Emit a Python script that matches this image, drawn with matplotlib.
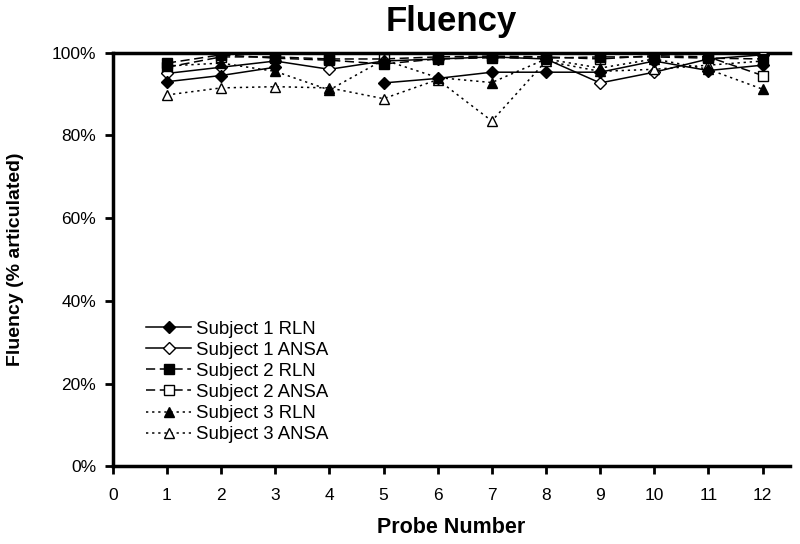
import numpy as np
import matplotlib
matplotlib.use("Agg")
import matplotlib.pyplot as plt
from matplotlib.ticker import PercentFormatter

plt.rcParams['font.family'] = ['Liberation Sans', 'DejaVu Sans']

probes = np.arange(1, 13)

# fluency values (% articulated) per probe
s1_rln = [93.0, 94.5, 96.5, np.nan, 92.7, 93.8, 95.3, 95.3, 95.3, 98.0, 95.7, 97.0]
s1_ansa = [95.0, 96.5, 98.0, 96.0, 98.0, 98.5, 99.0, 98.5, 92.7, 95.3, 98.5, 99.5]
s2_rln = [97.5, 99.5, 98.7, 98.2, 97.3, 98.5, 98.8, 98.7, 99.0, 99.0, 98.7, 98.5]
s2_ansa = [96.5, 99.0, 99.0, 98.5, 98.5, 99.0, 99.2, 99.0, 98.5, 99.3, 99.0, 94.5]
s3_rln = [96.8, 97.5, 95.5, 91.0, 98.3, 94.0, 92.8, 98.5, 96.3, 98.5, 96.0, 91.2]
s3_ansa = [89.8, 91.5, 91.8, 91.5, 88.9, 93.5, 83.5, 98.0, 95.5, 96.0, 97.0, 98.0]

# label, values, linestyle, marker, face colour, z-order
series = [
    ('Subject 1 RLN', s1_rln, '-', 'D', 'black', 4),
    ('Subject 1 ANSA', s1_ansa, '-', 'D', 'white', 3),
    ('Subject 2 RLN', s2_rln, (0, (6, 3)), 's', 'black', 5),
    ('Subject 2 ANSA', s2_ansa, (0, (6, 3)), 's', 'white', 2),
    ('Subject 3 RLN', s3_rln, (0, (1.5, 2.5)), '^', 'black', 6),
    ('Subject 3 ANSA', s3_ansa, (0, (1.5, 2.5)), '^', 'white', 3),
]

fig = plt.figure(figsize=(8, 5.44), dpi=100)
ax = fig.add_axes([0.141, 0.143, 0.846, 0.760])

for label, vals, ls, mk, fc, z in series:
    ax.plot(probes, vals, color='black', linestyle=ls, linewidth=1.1,
            marker=mk, markersize=7 if mk != 'D' else 6,
            markerfacecolor=fc, markeredgecolor='black', markeredgewidth=1.0,
            label=label, zorder=z)

ax.set_xlim(0, 12.5)
ax.set_ylim(0, 100)
ax.set_xticks(np.arange(0, 13))
ax.set_yticks(np.arange(0, 101, 20))
ax.yaxis.set_major_formatter(PercentFormatter(decimals=0))
ax.tick_params(labelsize=12.5, width=2, length=6, direction='out')
ax.tick_params(axis='x', pad=10)
ax.tick_params(axis='y', pad=6)

for side in ['left', 'bottom', 'top']:
    ax.spines[side].set_linewidth(2.5)
ax.spines['right'].set_visible(False)

ax.set_title('Fluency', fontsize=25, fontweight='bold', pad=16)
ax.set_xlabel('Probe Number', fontsize=15.5, fontweight='bold', labelpad=10)
ax.set_ylabel('Fluency (% articulated)', fontsize=14, fontweight='bold', labelpad=20)

ax.legend(loc='lower left', bbox_to_anchor=(0.025, 0.015), frameon=False,
          fontsize=13.4, handlelength=2.4, labelspacing=0.22, handletextpad=0.25)

fig.savefig('out.png', dpi=100)
